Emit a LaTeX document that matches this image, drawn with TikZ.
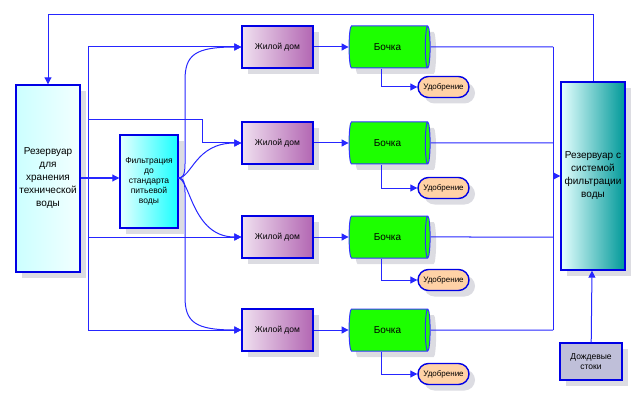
\documentclass[tikz,border=0pt]{standalone}
\usepackage{fontspec}
\setmainfont{Liberation Sans}
\usetikzlibrary{shapes.geometric,shapes.misc,shadows,arrows.meta}
\begin{document}
\begin{tikzpicture}[x=1pt,y=-1pt,
  sh/.style={drop shadow={shadow xshift=6pt,shadow yshift=-6pt,fill=blue!10!gray!25,opacity=1}},
  box/.style={draw=blue!90!black,line width=1.4pt,inner sep=1pt,align=center,font=\fontsize{8.5}{10}\selectfont,sh},
  house/.style={box,minimum width=71pt,minimum height=42pt,left color=violet!12,right color=violet!60!white},
  barrel/.style={cylinder,draw=blue!80,line width=1pt,aspect=0.35,minimum width=42pt,minimum height=81pt,shape border rotate=0,fill=green!85!lime,font=\fontsize{10}{12}\selectfont,sh},
  fert/.style={rounded rectangle,draw=blue!90!black,line width=1.4pt,fill=orange!35,minimum width=53pt,minimum height=21pt,inner sep=1pt,font=\fontsize{8}{9}\selectfont,sh},
  ln/.style={draw=blue!85,line width=1pt},
  ar/.style={ln,-{Triangle[length=7pt,width=7pt]}}]
\useasboundingbox (0,0) rectangle (640,401);
\node[box,font=\fontsize{10}{13}\selectfont,minimum width=64pt,minimum height=187pt,left color=cyan!20,right color=cyan!5] (L) at (48,178.5) {Резервуар\\для\\хранения\\технической\\воды};
\node[box,minimum width=58pt,minimum height=93pt,left color=cyan!10,right color=cyan!90] (F) at (149,181.5) {Фильтрация\\до\\стандарта\\питьевой\\воды};
\node[box,font=\fontsize{10}{13}\selectfont,minimum width=64pt,minimum height=188pt,left color=cyan!10,right color=teal!80!cyan] (R) at (593,176) {Резервуар с\\системой\\фильтрации\\воды};
\node[box,minimum width=62pt,minimum height=37pt,fill=blue!25!gray!40,inner sep=0pt] (D) at (591,361.5) {Дождевые\\стоки};
\foreach \i/\y/\fy in {1/47/87,2/143/188,3/237/280,4/330/374}{
  \node[house] (H\i) at (277.5,\y) {Жилой дом};
  \node[barrel] (B\i) at (387.5,\y) {Бочка};
  \node[fert] (U\i) at (443.5,\fy) {Удобрение};
  \draw[ar] (H\i) -- (B\i);
  \draw[ar] (B\i.south -| 381,0) |- (U\i);
  \draw[ln] (B\i.east) -- (553,\y);
}
\coordinate (t) at (553,47); \coordinate (b) at (553,330);
\draw[ln] (t) -- (b);
\draw[ar] (553,176) -- (R.west);
\draw[ar] (D) -- (R);
\draw[ar] (R.north) |- (48,15) -- (L.north);
\draw[ln] (88,47) -- (88,330);
\draw[ar] (88,47) -- (H1.west);
\draw[ar] (88,120) -| (202,143) -- (H2.west);
\draw[ar] (88,237) -- (H3.west);
\draw[ar] (88,330) -- (H4.west);
\draw[ar] (L.east |- 0,178) -- (F.west |- 0,178);
\coordinate (fo) at (178,178);
\draw[ar] (fo) .. controls (186,178) and (185,170) .. (185,150) -- (185,80) .. controls (185,55) and (195,47) .. (H1.west);
\draw[ar] (fo) .. controls (192,178) and (195,143) .. (H2.west);
\draw[ar] (fo) .. controls (190,178) and (192,237) .. (H3.west);
\draw[ar] (fo) .. controls (186,178) and (185,186) .. (185,206) -- (185,297) .. controls (185,322) and (195,330) .. (H4.west);
\end{tikzpicture}
\end{document}
